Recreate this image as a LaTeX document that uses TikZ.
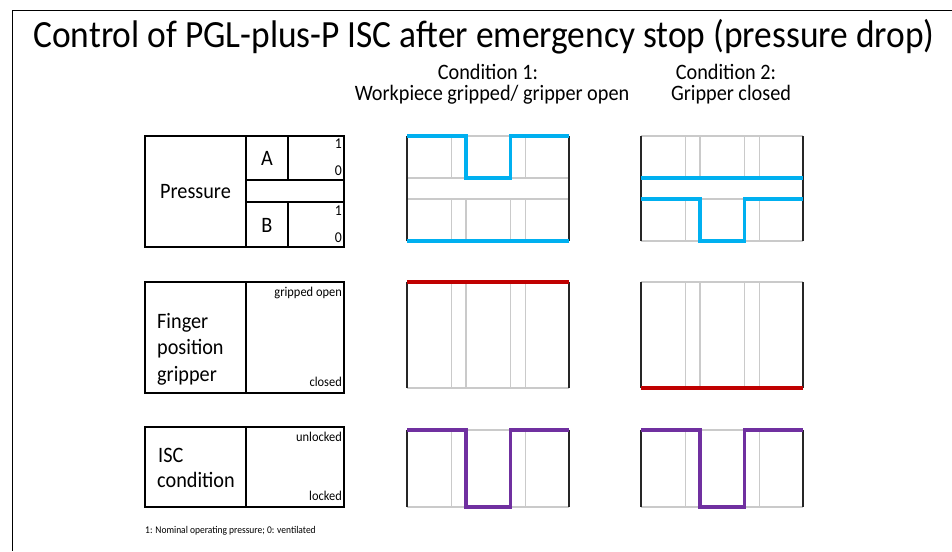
\documentclass[tikz,border=0pt]{standalone}
\usepackage{fontspec}
\setmainfont{Carlito}
\usetikzlibrary{positioning}
\definecolor{sigblue}{HTML}{00B0F0}
\definecolor{sigred}{HTML}{C00000}
\definecolor{sigpurple}{HTML}{7030A0}
\definecolor{gridgray}{HTML}{CACACA}
\newcommand{\narrow}[1]{\scalebox{0.92}[1]{#1}}

\begin{document}
\begin{tikzpicture}[x=1pt, y=-1pt]
	\tikzset{
		frame/.style={line width=1.5pt},
		box/.style={line width=1.4pt},
		grid line/.style={draw=gridgray, line width=1.3pt},
		axis/.style={line width=1.6pt, black!85},
		signal/.style={line width=3.6pt, line join=miter},
		label/.style={font=\fontsize{22}{26}\selectfont, inner sep=0pt},
		tag/.style={font=\fontsize{13.5}{14}\selectfont, inner sep=0pt},
		bit/.style={font=\fontsize{15}{16}\selectfont, inner sep=0pt},
		head/.style={font=\fontsize{22}{24}\selectfont, inner sep=0pt, anchor=base},
	}
	\useasboundingbox (0,0) rectangle (952,551);
	\draw[frame] (952,10.5) -- (12.5,10.5) -- (12.5,551);

	\node[font=\fontsize{38.5}{40}\selectfont, inner sep=0pt] (title) at (484,37) {\narrow{Control of PGL-plus-P ISC after emergency stop (pressure drop)}};
	\node[head] (c1) at (488,79.5) {\narrow{Condition 1:}};
	\node[head] (c1b) at (492,100) {\narrow{Workpiece gripped/ gripper open}};
	\node[head] (c2) at (726,79.5) {\narrow{Condition 2:}};
	\node[head] (c2b) at (731,100) {\narrow{Gripper closed}};

	% left-hand labels
	\draw[box] (145,136) rectangle (344,247);
	\draw[box] (246,136) -- (246,247) (246,180) -- (344,180) (246,202) -- (344,202)
		(288,136) -- (288,180) (288,202) -- (288,247);
	\node[label] (pressure) at (195.5,192) {\narrow{Pressure}};
	\node[label] (a) at (267,158) {\narrow{A}};
	\node[label] (b) at (267,225) {\narrow{B}};
	\node[bit, anchor=east] (a1) at (342,144) {\narrow{1}};
	\node[bit, anchor=east] (a0) at (342,171) {\narrow{0}};
	\node[bit, anchor=east] (b1) at (342,211) {\narrow{1}};
	\node[bit, anchor=east] (b0) at (342,238) {\narrow{0}};

	\draw[box] (145,282) rectangle (344,393) (246,282) -- (246,393);
	\node[label, anchor=base west] (finger) at (157,328) {\narrow{Finger}};
	\node[label, anchor=base west] (position) at (157,354.5) {\narrow{position}};
	\node[label, anchor=base west] (gripper) at (157,381) {\narrow{gripper}};
	\node[tag, anchor=east] (open) at (342,293) {\narrow{gripped open}};
	\node[tag, anchor=east] (closed) at (342,382) {\narrow{closed}};

	\draw[box] (145,427) rectangle (344,507) (246,427) -- (246,507);
	\node[label, anchor=base west] (isc) at (158,462) {\narrow{ISC}};
	\node[label, anchor=base west] (cond) at (157,487) {\narrow{condition}};
	\node[tag, anchor=east] (unlocked) at (342,437) {\narrow{unlocked}};
	\node[tag, anchor=east] (locked) at (342,496) {\narrow{locked}};

	\node[font=\fontsize{10.3}{11}\selectfont, anchor=west, inner sep=0pt] (note) at (145,531) {\narrow{1: Nominal operating pressure; 0: ventilated}};

	% condition 1
	\begin{scope}[xshift=407pt]
		\draw[grid line] (0,136) -- (162,136) (0,178) -- (162,178) (0,199) -- (162,199) (0,241) -- (162,241);
		\foreach \gx in {44.5,118.5} \draw[grid line] (\gx,136) -- (\gx,178);
		\foreach \gx in {44.5,59,103.5,118.5} \draw[grid line] (\gx,199) -- (\gx,241);
		\draw[axis] (0,136) -- (0,241) (162,136) -- (162,241);
		\draw[signal, sigblue] (0,136) -- (59,136) -- (59,178) -- (103.5,178) -- (103.5,136) -- (162,136);
		\draw[signal, sigblue] (0,241) -- (162,241);

		\draw[grid line] (0,388) -- (162,388);
		\foreach \gx in {44.5,59,103.5,118.5} \draw[grid line] (\gx,282) -- (\gx,388);
		\draw[axis] (0,282) -- (0,388) (162,282) -- (162,388);
		\draw[signal, sigred] (0,282) -- (162,282);

		\draw[grid line] (0,430) -- (162,430) (0,507) -- (162,507);
		\foreach \gx in {44.5,118.5} \draw[grid line] (\gx,430) -- (\gx,507);
		\draw[axis] (0,430) -- (0,507) (162,430) -- (162,507);
		\draw[signal, sigpurple] (0,430) -- (59,430) -- (59,507) -- (103.5,507) -- (103.5,430) -- (162,430);
	\end{scope}

	% condition 2
	\begin{scope}[xshift=641pt]
		\draw[grid line] (0,136) -- (162,136) (0,178) -- (162,178) (0,199) -- (162,199) (0,241) -- (162,241);
		\foreach \gx in {44.5,59,103.5,118.5} \draw[grid line] (\gx,136) -- (\gx,178);
		\foreach \gx in {44.5,118.5} \draw[grid line] (\gx,199) -- (\gx,241);
		\draw[axis] (0,136) -- (0,241) (162,136) -- (162,241);
		\draw[signal, sigblue] (0,178) -- (162,178);
		\draw[signal, sigblue] (0,199) -- (59,199) -- (59,241) -- (103.5,241) -- (103.5,199) -- (162,199);

		\draw[grid line] (0,282) -- (162,282);
		\foreach \gx in {44.5,59,103.5,118.5} \draw[grid line] (\gx,282) -- (\gx,388);
		\draw[axis] (0,282) -- (0,388) (162,282) -- (162,388);
		\draw[signal, sigred] (0,388) -- (162,388);

		\draw[grid line] (0,430) -- (162,430) (0,507) -- (162,507);
		\foreach \gx in {44.5,118.5} \draw[grid line] (\gx,430) -- (\gx,507);
		\draw[axis] (0,430) -- (0,507) (162,430) -- (162,507);
		\draw[signal, sigpurple] (0,430) -- (59,430) -- (59,507) -- (103.5,507) -- (103.5,430) -- (162,430);
	\end{scope}
\end{tikzpicture}
\end{document}
